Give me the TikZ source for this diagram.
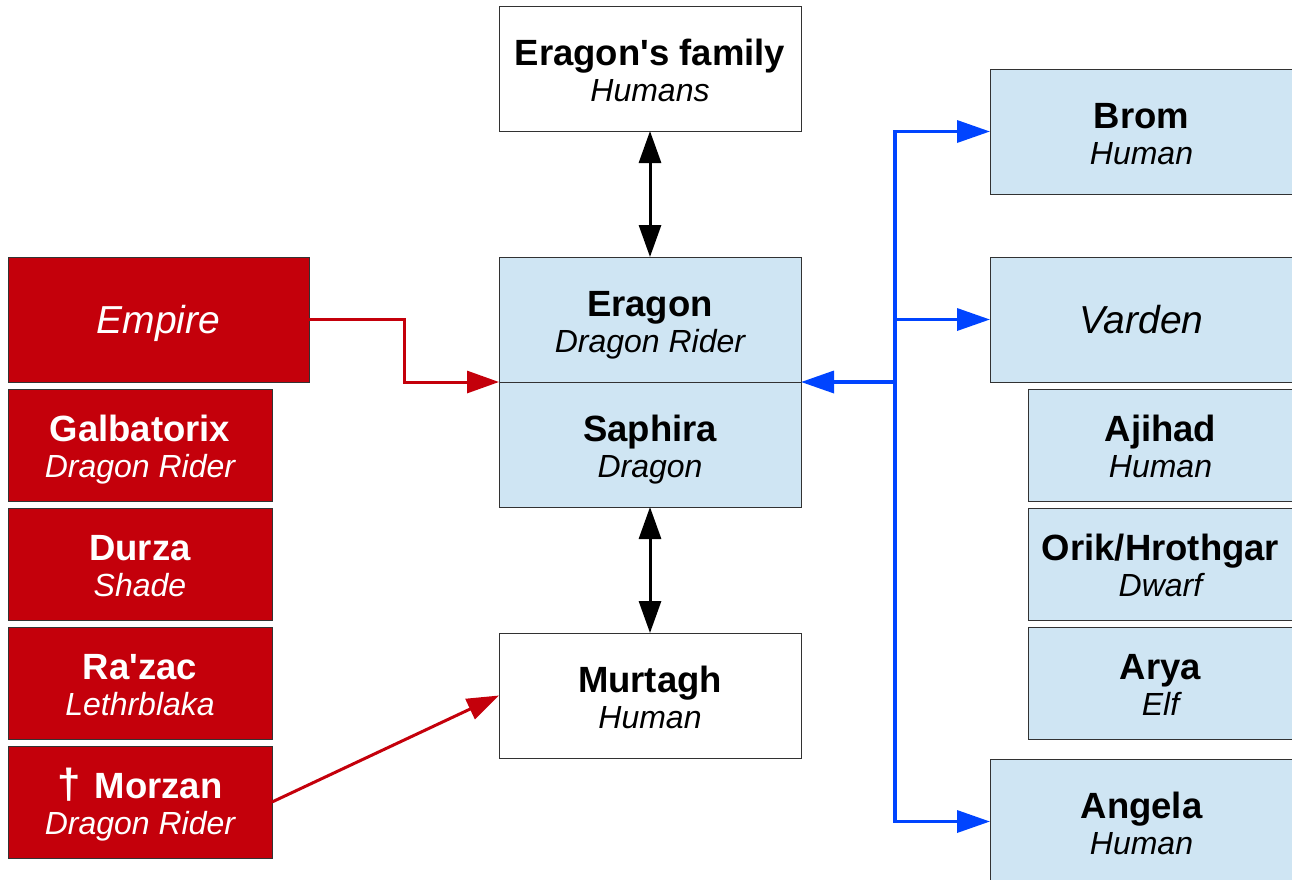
\documentclass[tikz,border=0pt]{standalone}
\usepackage{fontspec}
\setmainfont{Liberation Sans}
\usetikzlibrary{arrows.meta,calc}
\definecolor{redfill}{RGB}{196,0,11}
\definecolor{bluefill}{RGB}{207,229,243}
\definecolor{bluearrow}{RGB}{0,68,255}
\definecolor{redarrow}{RGB}{196,0,11}
\definecolor{boxline}{RGB}{50,50,50}
\newcommand{\nm}[1]{{\fontsize{36.5}{36}\selectfont\bfseries #1}}
\newcommand{\kind}[1]{{\fontsize{32}{36}\selectfont\itshape #1}}
\newcommand{\grp}[1]{{\fontsize{39}{36}\selectfont\itshape #1}}
\newcommand{\two}[2]{\rule{0pt}{37pt}\nm{#1}\\\kind{#2}\rule[-8pt]{0pt}{8pt}}
\newcommand{\one}[1]{\rule[-9pt]{0pt}{45pt}\grp{#1}}
\tikzset{
  box/.style={draw=boxline, line width=0.9pt, inner sep=0pt, outer sep=0pt,
    align=center, font=\fontsize{32}{36}\selectfont},
  whitebox/.style={box, fill=white},
  bluebox/.style={box, fill=bluefill},
  redbox/.style={box, fill=redfill, draw=black!80, text=white},
  big/.style={minimum width=302pt, minimum height=125pt},
  small/.style={minimum width=264pt, minimum height=112pt},
  blackarrow/.style={draw=black, line width=3pt, {Triangle[length=32pt,width=22pt]}-{Triangle[length=32pt,width=22pt]}},
  redline/.style={draw=redarrow, line width=3pt, -{Triangle[length=32pt,width=22pt]}},
  blueline/.style={draw=bluearrow, line width=3.5pt, -{Triangle[length=33pt,width=22pt]}},
}
\begin{document}
\begin{tikzpicture}[x=1pt,y=-1pt]
\useasboundingbox (0,0) rectangle (1292,879);
\clip (0,0) rectangle (1292,879);
% centre column
\node[whitebox,big] (fam) at (650,68.5) {\two{Eragon\textquotesingle s family}{Humans}};
\node[bluebox,big] (eragon) at (650,319.5) {\two{Eragon}{Dragon Rider}};
\node[bluebox,big] (saphira) at (650,444.5) {\two{Saphira}{Dragon}};
\node[whitebox,big] (murtagh) at (650,695.5) {\two{Murtagh}{Human}};
% left column
\node[redbox,minimum width=301pt,minimum height=125pt] (empire) at (158.5,319.5) {\one{Empire}};
\node[redbox,small] (galba) at (140,445) {\two{Galbatorix}{Dragon Rider}};
\node[redbox,small] (durza) at (140,564) {\two{Durza}{Shade}};
\node[redbox,small] (razac) at (140,683) {\two{Ra\textquotesingle zac}{Lethrblaka}};
\node[redbox,small] (morzan) at (140,802) {\two{{\fontsize{42}{36}\selectfont †}\hspace{14pt}Morzan}{Dragon Rider}};
% right column
\node[bluebox,minimum width=303pt,minimum height=125pt] (brom) at (1141.5,131.5) {\two{Brom}{Human}};
\node[bluebox,minimum width=303pt,minimum height=125pt] (varden) at (1141.5,319.5) {\one{Varden}};
\node[bluebox,minimum width=265pt,minimum height=112pt] (ajihad) at (1160.5,445) {\two{Ajihad}{Human}};
\node[bluebox,minimum width=265pt,minimum height=112pt] (orik) at (1160.5,564) {\two{Orik/Hrothgar}{Dwarf}};
\node[bluebox,minimum width=265pt,minimum height=112pt] (arya) at (1160.5,683) {\two{Arya}{Elf}};
\node[bluebox,minimum width=303pt,minimum height=125pt] (angela) at (1141.5,821.5) {\two{Angela}{Human}};
% connectors
\draw[blackarrow] (fam.south) -- (eragon.north);
\draw[blackarrow] (saphira.south) -- (murtagh.north);
\draw[redline] (empire.east) -| ([xshift=-95pt]eragon.south west) -- (eragon.south west);
\draw[redline] (morzan.east) -- (murtagh.west);
\coordinate (bus) at (895,382);
\draw[blueline] (bus) -- (eragon.south east);
\draw[blueline] (bus) |- (brom.west);
\draw[blueline] (bus) |- (varden.west);
\draw[blueline] (bus) |- (angela.west);
\end{tikzpicture}
\end{document}
